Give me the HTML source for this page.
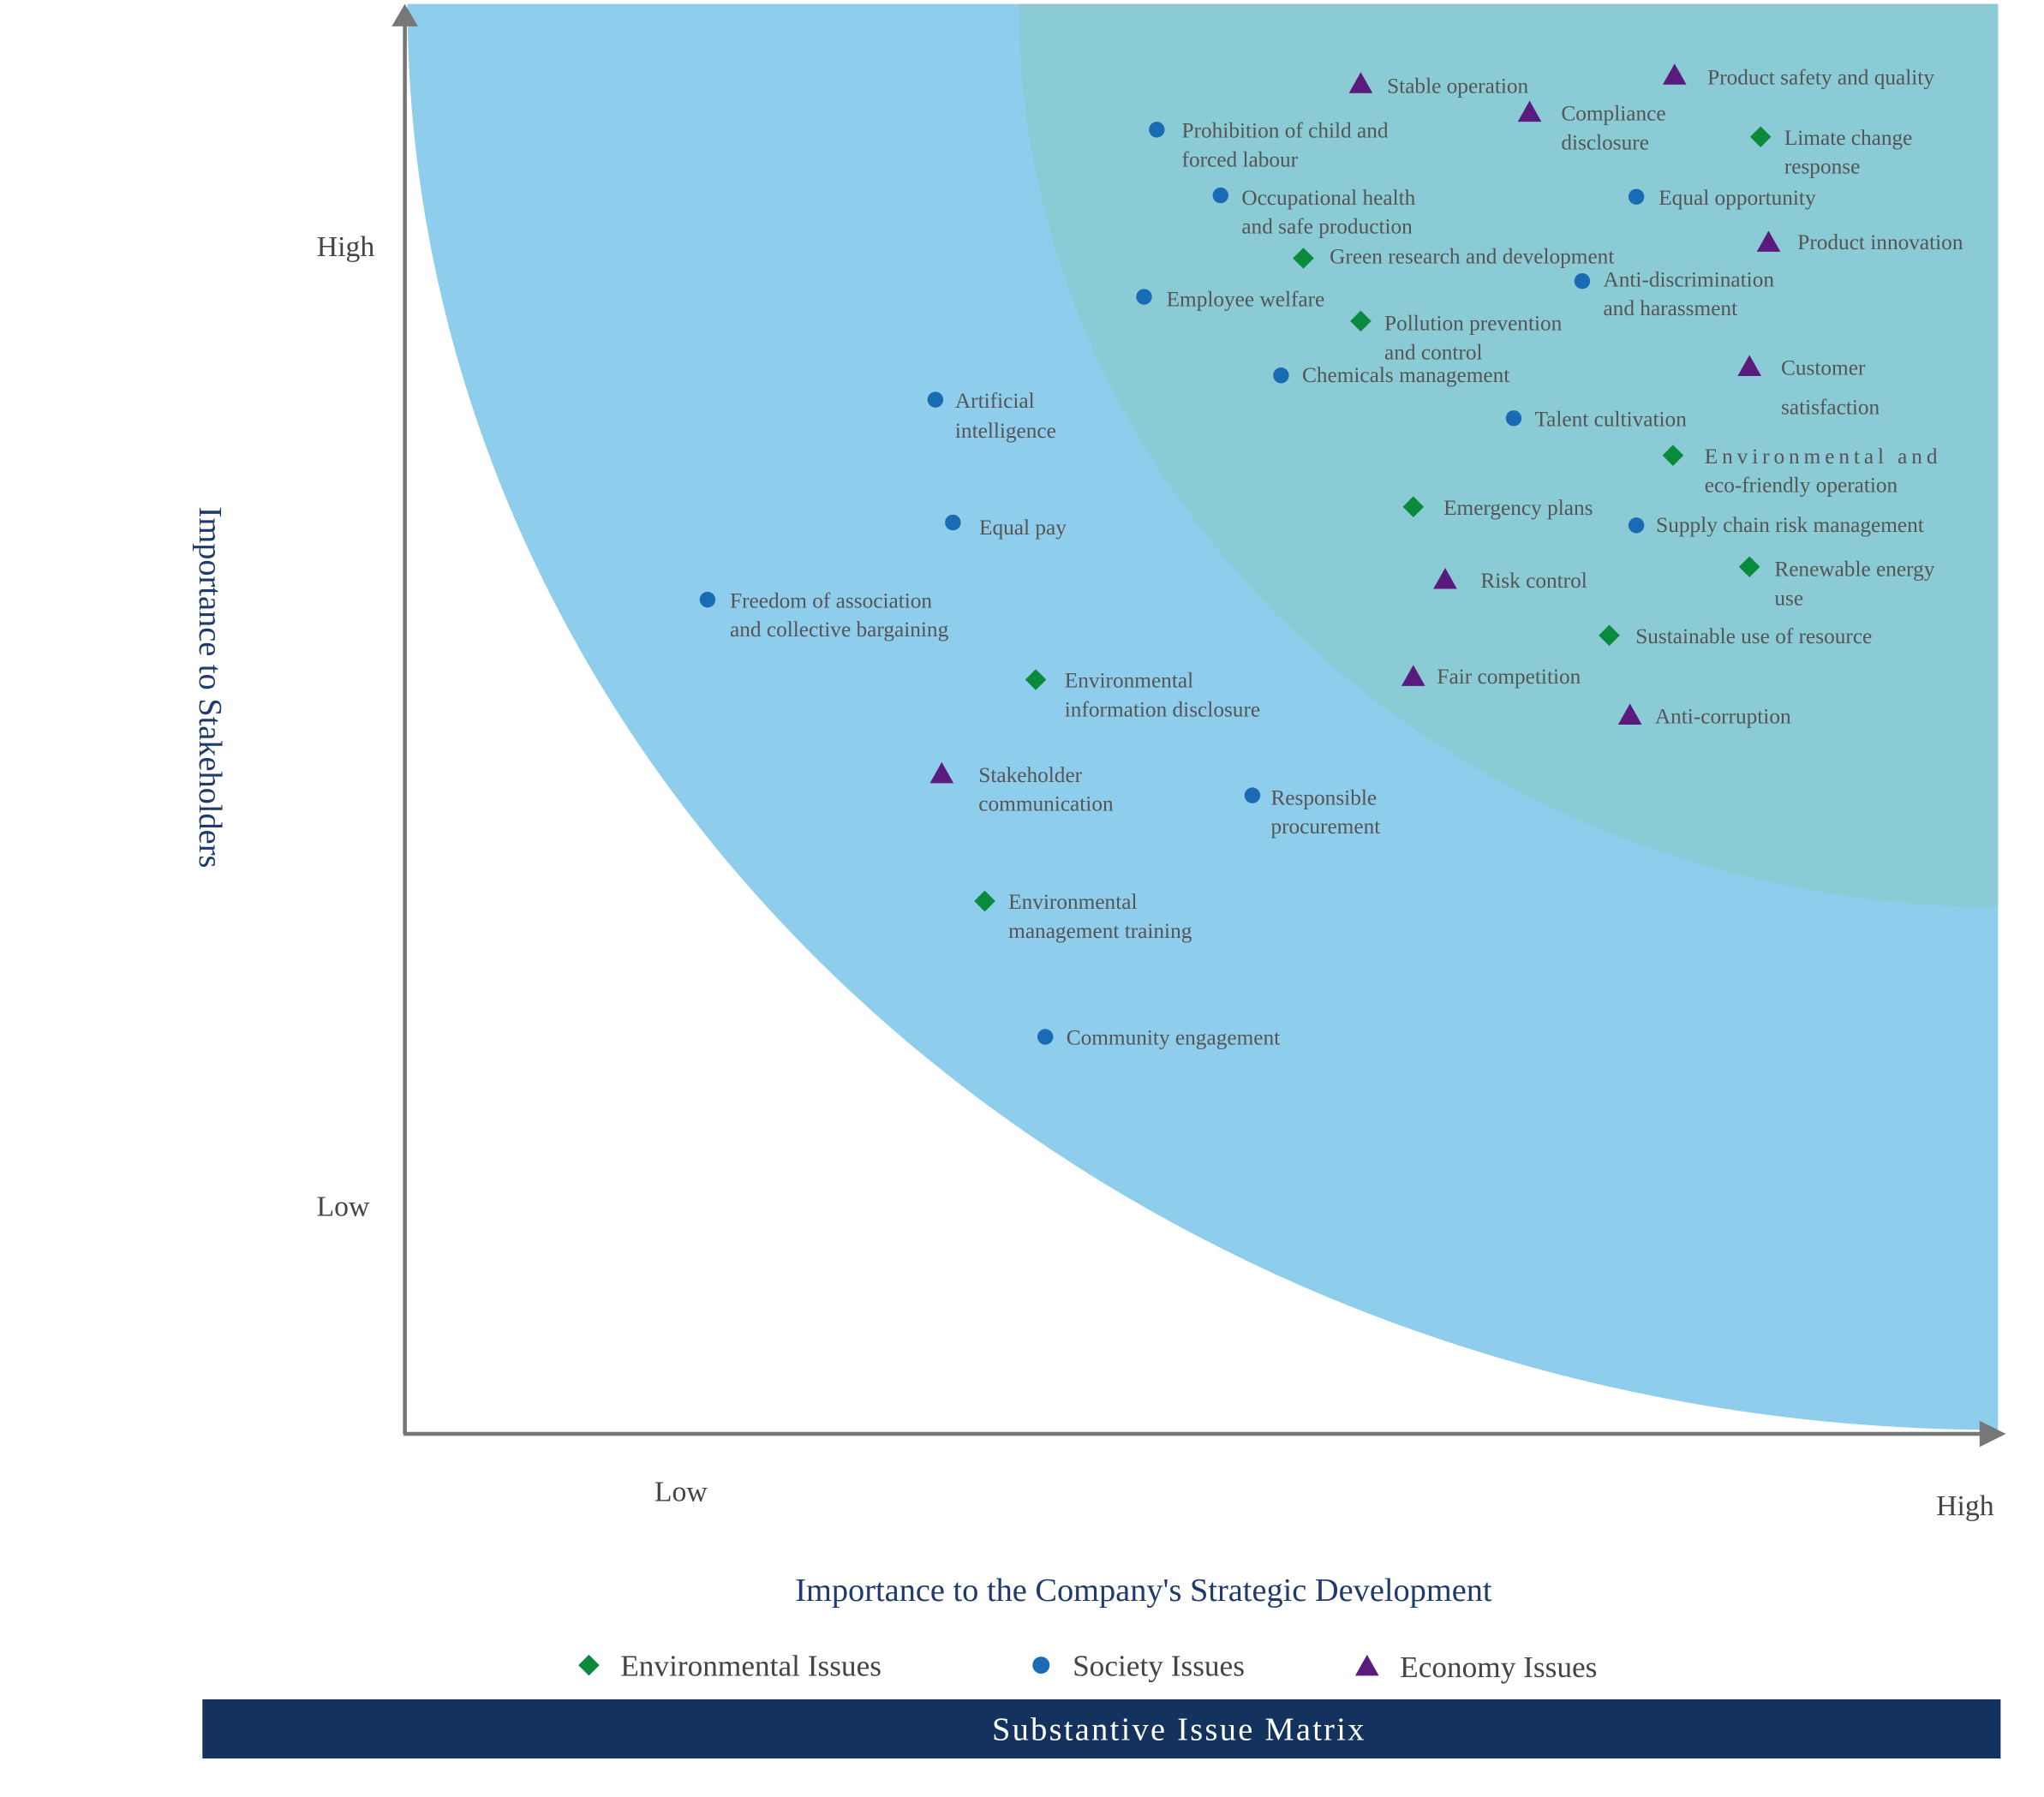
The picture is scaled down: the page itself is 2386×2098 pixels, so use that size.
<!DOCTYPE html>
<html><head><meta charset="utf-8"><style>
html,body{margin:0;padding:0;background:#fff;}
svg{display:block;font-family:"Liberation Serif",serif;}
</style></head><body>
<svg id="chart" width="2386" height="2098" viewBox="0 0 1555 1367.3" xmlns="http://www.w3.org/2000/svg">
<rect x="0" y="0" width="1555" height="1367.3" fill="#fff"/>
<path d="M310,3 A1210,1085 0 0 0 1520,1088 L1520,3 Z" fill="#8ecdeb"/>
<path d="M775,3 A745,687 0 0 0 1520,690 L1520,3 Z" fill="#8acbd5"/>
<g stroke="#777" stroke-width="3" fill="none">
<line x1="308" y1="1091" x2="308" y2="14"/>
</g>
<polygon points="298,20 308,3 318,20" fill="#777"/>
<g stroke="#777" stroke-width="3"><line x1="307" y1="1091" x2="1512" y2="1091"/></g>
<polygon points="1506,1081 1526,1091 1506,1101" fill="#777"/>
<g font-size="22" fill="#444">
<text x="263" y="195" text-anchor="middle">High</text>
<text x="261" y="925" text-anchor="middle">Low</text>
<text x="518" y="1142" text-anchor="middle">Low</text>
<text x="1495" y="1153" text-anchor="middle">High</text>
</g>
<text transform="translate(152,523) rotate(90)" text-anchor="middle" font-size="25" fill="#1e3a6e">Importance to Stakeholders</text>
<text x="870" y="1218" text-anchor="middle" font-size="25" fill="#1e3a6e">Importance to the Company's Strategic Development</text>
<g id="points"></g>
<g font-size="23" fill="#444">
<polygon points="448,1259 456,1267 448,1275 440,1267" fill="#0a8a3c"/>
<text x="472" y="1275">Environmental Issues</text>
<circle cx="792" cy="1267" r="6.5" fill="#1a6bb5"/>
<text x="816" y="1275">Society Issues</text>
<polygon points="1040,1259 1049,1275 1031,1275" fill="#5b1a7e"/>
<text x="1065" y="1276">Economy Issues</text>
</g>
<rect x="154" y="1293" width="1368" height="45" fill="#13335e"/>
<text x="897" y="1324" text-anchor="middle" font-size="25" fill="#fff" letter-spacing="1.5">Substantive Issue Matrix</text>
</svg>
<script>
const categories=["eco","eco","eco","env","soc","soc","soc","eco","env","soc","soc","env","eco","soc","soc","soc","env","env","soc","soc","eco","env","soc","env","env","eco","eco","eco","soc","env","soc"];
const labels=[["Stable operation"],["Product safety and quality"],["Compliance","disclosure"],["Limate change","response"],["Prohibition of child and","forced labour"],["Occupational health","and safe production"],["Equal opportunity"],["Product innovation"],["Green research and development"],["Anti-discrimination","and harassment"],["Employee welfare"],["Pollution prevention","and control"],["Customer","satisfaction"],["Chemicals management"],["Artificial","intelligence"],["Talent cultivation"],["Environmental and","eco-friendly operation"],["Emergency plans"],["Equal pay"],["Supply chain risk management"],["Risk control"],["Renewable energy","use"],["Freedom of association","and collective bargaining"],["Sustainable use of resource"],["Environmental","information disclosure"],["Fair competition"],["Anti-corruption"],["Stakeholder","communication"],["Responsible","procurement"],["Environmental","management training"],["Community engagement"]];
const strategicImportance=[60.0,79.7,70.6,85.1,47.2,51.2,77.3,85.6,56.4,73.9,46.4,60.0,84.4,55.0,33.3,69.6,79.6,63.3,34.4,77.3,65.3,84.4,19.0,75.6,39.6,63.3,76.9,33.7,53.2,36.4,40.2];
const stakeholderImportance=[94.4,95.0,92.4,90.7,91.2,86.6,86.5,83.3,82.2,80.6,79.5,77.8,74.6,74.0,72.3,71.0,68.4,64.8,63.7,63.5,59.7,60.6,58.3,55.8,52.7,52.9,50.2,46.1,44.6,37.2,27.7];
// label placement (style, not data)
const labelDx=[20,25,24,18,19,16,17,22,20,16,17,18,24,16,15,16,24,23,20,15,27,19,17,20,22,18,19,28,14,18,16];
const labelDy=[7,7,6,6,6,7,6,5,4,4,7,7,6,5,6,6,6,6,9,5,6,7,6,6,6,5,6,6,7,6,6];
const lineGap=[22,22,22,22,22,22,22,22,22,22,22,22,30,22,23,22,22,22,22,22,30,22,22,22,22,22,22,22,22,22,22];
const spaced=[false,false,false,false,false,false,false,false,false,false,false,false,false,false,false,false,true,false,false,false,false,false,false,false,false,false,false,false,false,false,false];
function xScale(v){return 308+v*12.12;}
function yScale(v){return 1090-v*10.87;}
const colors={env:"#0a8a3c",soc:"#1a6bb5",eco:"#5b1a7e"};
const NS="http://www.w3.org/2000/svg";
const g=document.getElementById("points");
for(let i=0;i<categories.length;i++){
  const cx=xScale(strategicImportance[i]), cy=yScale(stakeholderImportance[i]);
  const c=categories[i];
  let m;
  if(c==="soc"){m=document.createElementNS(NS,"circle");m.setAttribute("cx",cx);m.setAttribute("cy",cy);m.setAttribute("r",6);}
  else if(c==="env"){m=document.createElementNS(NS,"polygon");m.setAttribute("points",`${cx},${cy-8} ${cx+8},${cy} ${cx},${cy+8} ${cx-8},${cy}`);}
  else {m=document.createElementNS(NS,"polygon");m.setAttribute("points",`${cx},${cy-9} ${cx+9},${cy+7} ${cx-9},${cy+7}`);}
  m.setAttribute("fill",colors[c]);
  
  
  g.appendChild(m);
  const t=document.createElementNS(NS,"text");
  t.setAttribute("font-size","16.5");t.setAttribute("fill","#555");
  
  
  labels[i].forEach((ln,k)=>{
    const s=document.createElementNS(NS,"tspan");
    s.setAttribute("x",cx+labelDx[i]);
    s.setAttribute("y",cy+labelDy[i]+k*lineGap[i]);
    if(spaced[i]&&k===0)s.setAttribute("letter-spacing","3.2");
    s.textContent=ln;
    t.appendChild(s);
  });
  g.appendChild(t);
}
</script>
</body></html>
